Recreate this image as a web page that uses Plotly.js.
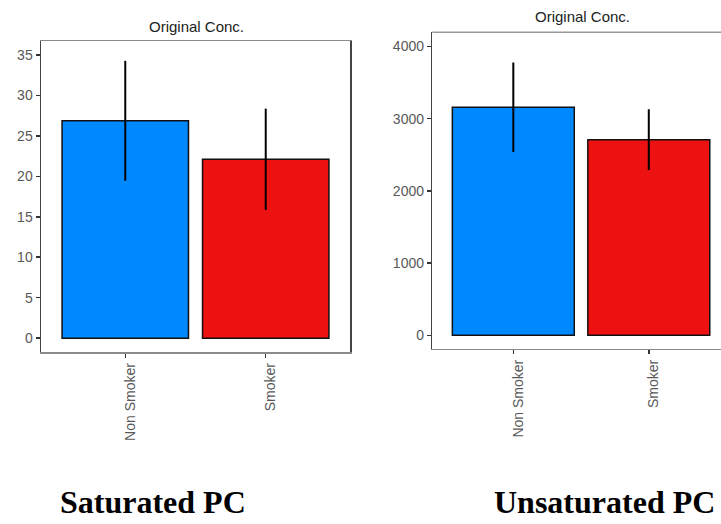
<!DOCTYPE html>
<html>
<head>
<meta charset="utf-8">
<script src="https://cdn.plot.ly/plotly-3.0.1.min.js"></script>
<style>
  html, body { margin: 0; padding: 0; background: #fff; }
  #chart { width: 721px; height: 524px; }
</style>
</head>
<body>
<div id="chart"></div>
<script>
// Groups and bar colours
const groups = ["Non Smoker", "Smoker"];
const groupColors = ["#0088FF", "#EE1111"];

// Saturated PC: mean concentration and error half-width
const saturatedMean = [26.85, 22.1];
const saturatedErr = [7.4, 6.25];

// Unsaturated PC: mean concentration and error half-width
const unsaturatedMean = [3160, 2710];
const unsaturatedErr = [620, 420];

// Panel labels
const panelTitle = "Original Conc.";
const panelNames = ["Saturated PC", "Unsaturated PC"];

const W = 721, H = 524;
const px = v => v / W;
const py = v => 1 - v / H;

function barTrace(values, errs, xa, ya) {
  return {
    type: "bar",
    x: groups,
    y: values,
    xaxis: xa,
    yaxis: ya,
    width: 0.9,
    marker: { color: groupColors, line: { color: "#111", width: 1.5 } },
    error_y: { type: "data", array: errs, visible: true, color: "#000", thickness: 2, width: 0 },
    showlegend: false,
    hoverinfo: "skip"
  };
}

const tickFont = { family: "Liberation Sans, Arial, sans-serif", size: 14, color: "#585858" };

const baseX = {
  type: "category",
  showgrid: false,
  zeroline: false,
  showline: true,
  linewidth: 1.5,
  ticks: "outside",
  ticklen: 4,
  tickwidth: 1.5,
  tickcolor: "#333",
  tickangle: -90,
  ticklabelshift: 5,
  tickfont: tickFont,
  fixedrange: true
};
const baseY = {
  showgrid: false,
  zeroline: false,
  showline: true,
  linewidth: 1.5,
  ticks: "outside",
  ticklen: 4,
  tickwidth: 1.5,
  tickcolor: "#333",
  tickfont: tickFont,
  fixedrange: true
};

const data = [
  barTrace(saturatedMean, saturatedErr, "x", "y"),
  barTrace(unsaturatedMean, unsaturatedErr, "x2", "y2")
];

const layout = {
  width: W,
  height: H,
  margin: { l: 0, r: 0, t: 0, b: 0 },
  paper_bgcolor: "#fff",
  plot_bgcolor: "#fff",
  xaxis: Object.assign({}, baseX, {
    domain: [px(41), px(350)],
    range: [-0.6, 1.6],
    anchor: "y",
    linecolor: "#8a8a8a",
    mirror: true
  }),
  yaxis: Object.assign({}, baseY, {
    domain: [py(352), py(41)],
    range: [-1.7, 36.7],
    tickvals: [0, 5, 10, 15, 20, 25, 30, 35],
    anchor: "x",
    linecolor: "#444",
    mirror: true
  }),
  xaxis2: Object.assign({}, baseX, {
    domain: [px(432.3), 1],
    range: [-0.598, 1.533],
    anchor: "y2",
    linecolor: "#8a8a8a"
  }),
  yaxis2: Object.assign({}, baseY, {
    domain: [py(348.7), py(32.3)],
    range: [-186, 4197],
    tickvals: [0, 1000, 2000, 3000, 4000],
    anchor: "x2",
    linecolor: "#444"
  }),
  shapes: [
    {
      type: "line", xref: "x2 domain", yref: "y2 domain",
      x0: 0, x1: 1, y0: 1, y1: 1,
      line: { color: "#999", width: 1.5 }
    }
  ],
  annotations: [
    {
      text: panelTitle, xref: "paper", yref: "paper",
      x: px(196), y: py(26), xanchor: "center", yanchor: "middle",
      showarrow: false,
      font: { family: "Liberation Sans, Arial, sans-serif", size: 15, color: "#222" }
    },
    {
      text: panelTitle, xref: "paper", yref: "paper",
      x: px(582), y: py(16), xanchor: "center", yanchor: "middle",
      showarrow: false,
      font: { family: "Liberation Sans, Arial, sans-serif", size: 15, color: "#222" }
    },
    {
      text: "<b>" + panelNames[0] + "</b>", xref: "paper", yref: "paper",
      x: px(152.5), y: py(502), xanchor: "center", yanchor: "middle",
      showarrow: false,
      font: { family: "Liberation Serif, Times New Roman, serif", size: 32, color: "#000" }
    },
    {
      text: "<b>" + panelNames[1] + "</b>", xref: "paper", yref: "paper",
      x: px(604.5), y: py(502), xanchor: "center", yanchor: "middle",
      showarrow: false,
      font: { family: "Liberation Serif, Times New Roman, serif", size: 32, color: "#000" }
    }
  ]
};

Plotly.newPlot("chart", data, layout, { displayModeBar: false, staticPlot: true });
</script>
</body>
</html>
